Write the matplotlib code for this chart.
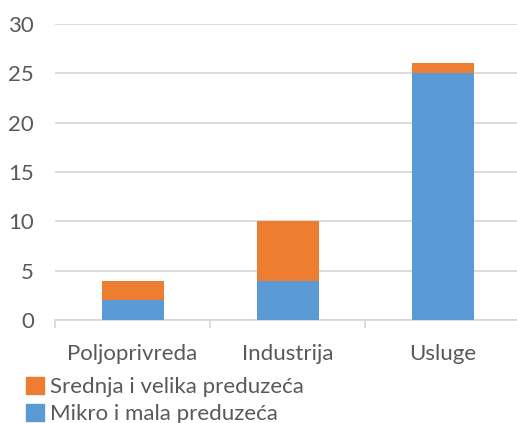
import matplotlib.pyplot as plt
from matplotlib.patches import Patch

# data
categories = ['Poljoprivreda', 'Industrija', 'Usluge']
mikro_mala = [2, 4, 25]
srednja_velika = [2, 6, 1]
series_names = ['Mikro i mala preduzeća', 'Srednja i velika preduzeća']

blue = '#5B9BD5'
orange = '#ED7D31'
grid_c = '#D9D9D9'
text_c = '#595959'

plt.rcParams['font.family'] = ['Lato', 'DejaVu Sans']
fs = 16

fig = plt.figure(figsize=(5.17, 4.23), dpi=100)
ax = fig.add_axes([55 / 517, 1 - 320 / 423, 465 / 517, 296 / 423])

x = list(range(len(categories)))
ax.bar(x, mikro_mala, width=0.4, color=blue, zorder=3)
ax.bar(x, srednja_velika, width=0.4, bottom=mikro_mala, color=orange, zorder=3)

ax.set_xlim(-0.5, 2.5)
ax.set_ylim(0, 30)
ax.set_yticks(range(0, 31, 5))
ax.yaxis.grid(True, color=grid_c, linewidth=1.3, zorder=0)
ax.tick_params(axis='y', length=0, pad=15, labelsize=fs, labelcolor=text_c)

# category labels between boundary ticks
ax.set_xticks(x)
ax.set_xticklabels(categories)
ax.tick_params(axis='x', length=0, pad=17, labelsize=fs, labelcolor=text_c)
ax.set_xticks([-0.5, 0.5, 1.5, 2.5], minor=True)
ax.tick_params(axis='x', which='minor', length=6, width=1.3, color=grid_c)

for side in ['top', 'right', 'left']:
    ax.spines[side].set_visible(False)
ax.spines['bottom'].set_color(grid_c)
ax.spines['bottom'].set_linewidth(1.3)

handles = [Patch(color=orange), Patch(color=blue)]
labels = [series_names[1], series_names[0]]
fig.legend(handles, labels, loc='upper left', bbox_to_anchor=(0.05, 1 - 377 / 423),
           frameon=False, fontsize=fs, labelcolor=text_c,
           handlelength=0.8, handleheight=0.8, handletextpad=0.3,
           labelspacing=0.3, borderaxespad=0, borderpad=0)

fig.savefig('out.png', dpi=100)
